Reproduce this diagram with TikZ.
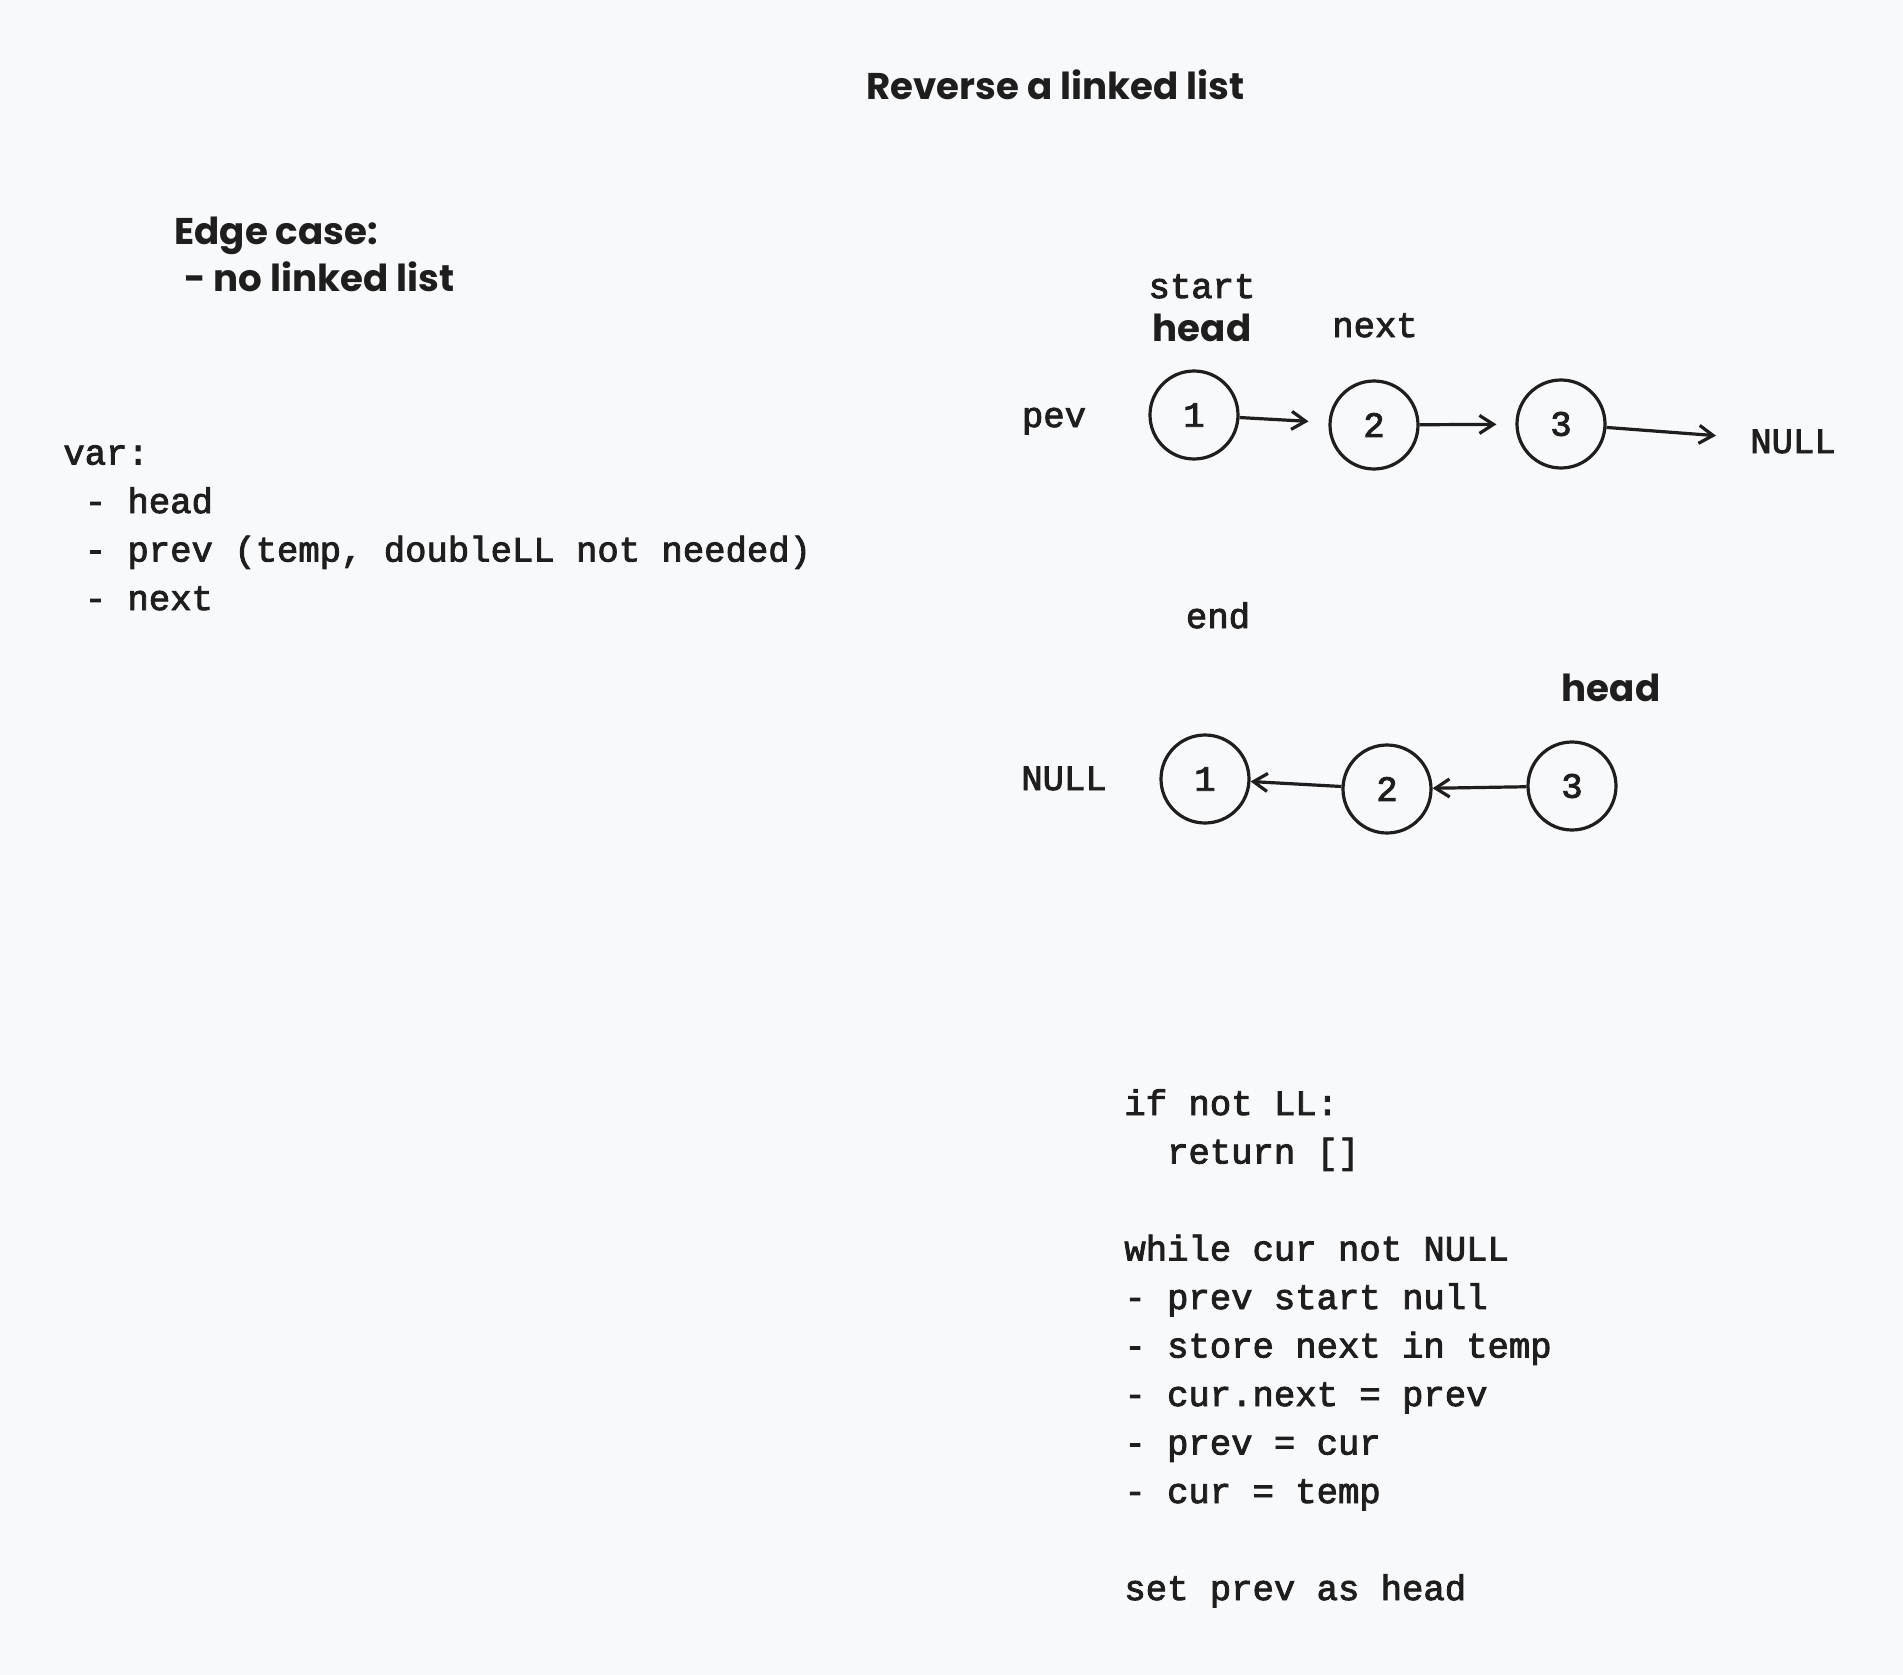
\documentclass[tikz,border=0pt]{standalone}
\usepackage{fontspec}
\setmainfont{Poppins}
\setmonofont[FakeBold=2.5]{Liberation Mono}
\usetikzlibrary{arrows.meta}
\definecolor{paper}{HTML}{F8F9FB}
\definecolor{ink}{HTML}{1E1E1E}

\begin{document}
\begin{tikzpicture}[x=0.5pt,y=-0.5pt,
  hand/.style={font=\fontsize{18.6}{23.75}\selectfont\bfseries, text=ink, inner sep=0pt},
  mono/.style={font=\fontsize{17.8}{24.25}\selectfont\ttfamily, text=ink, inner sep=0pt},
  item/.style={circle, draw=ink, line width=1.6pt, minimum size=44pt, inner sep=0pt, mono},
  link/.style={-{Straight Barb[length=7pt,width=9pt]}, line width=1.6pt, draw=ink}]
 \fill[paper] (0,0) rectangle (1903,1675);
 \node[hand, anchor=base west] (title) at (866,100) {Reverse a linked list};
 % notes on the left
 \node[hand, anchor=base west, align=left] (edge) at (174,292) {Edge case:\\\hspace{5pt}- no linked list};
 \node[mono, anchor=base west, align=left] (vars) at (63,610) {var:\\~- head\\~- prev (temp, doubleLL not needed)\\~- next};
 % list before
 \node[item] (t1) at (1194,415) {1};
 \node[item] (t2) at (1374,425) {2};
 \node[item] (t3) at (1561,424) {3};
 \node[mono, anchor=base] (pev) at (1054,427) {pev};
 \node[mono, anchor=base] (start) at (1202,298) {start};
 \node[hand, anchor=base] (head1) at (1202,341) {head};
 \node[mono, anchor=base] (nxt) at (1375,337) {next};
 \node[mono, anchor=base] (null1) at (1793,453) {NULL};
 \draw[link, shorten >=10pt] (t1) -- (t2);
 \draw[link, shorten >=9.5pt] (t2) -- (t3);
 \draw[link, shorten >=17pt] (t3) -- (null1);
 % list after
 \node[mono, anchor=base] (endlbl) at (1218,628) {end};
 \node[hand, anchor=base] (head2) at (1611,701) {head};
 \node[mono, anchor=base] (null2) at (1064,790) {NULL};
 \node[item] (b1) at (1205,779) {1};
 \node[item] (b2) at (1387,789) {2};
 \node[item] (b3) at (1572,786) {3};
 \draw[link] (b2) -- (b1);
 \draw[link] (b3) -- (b2);
 % pseudo code
 \node[mono, anchor=base west, align=left] (code) at (1124,1600) {if not LL:\\~~return []\\[24.25pt]while cur not NULL\\- prev start null\\- store next in temp\\- cur.next = prev\\- prev = cur\\- cur = temp\\[24.25pt]set prev as head};
\end{tikzpicture}
\end{document}
